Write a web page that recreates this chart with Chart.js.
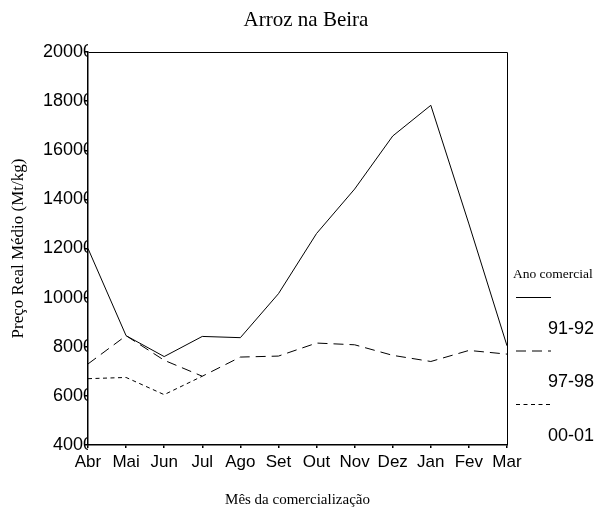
<!DOCTYPE html>
<html>
<head>
<meta charset="utf-8">
<script src="https://cdn.jsdelivr.net/npm/chart.js@4"></script>
<style>
html,body{margin:0;padding:0;background:#fff;}
canvas{display:block;}
</style>
</head>
<body>
<canvas id="c" width="612" height="531"></canvas>
<script>
const months = ['Abr','Mai','Jun','Jul','Ago','Set','Out','Nov','Dez','Jan','Fev','Mar'];
const s9192 = [12000, 8450, 7600, 8420, 8370, 10160, 12610, 14420, 16580, 17830, 13000, 8040];
const s9798 = [7300, 8450, 7450, 6800, 7580, 7620, 8150, 8080, 7650, 7400, 7850, 7700];
const s0001 = [6700, 6750, 6050, 6800, null, null, null, null, null, null, null, null];
const seriesLabels = ['91-92', '97-98', '00-01'];
const yTicks = [4000, 6000, 8000, 10000, 12000, 14000, 16000, 18000, 20000];

const frame = {
  id: 'frame',
  afterDraw(chart) {
    const {ctx, chartArea: a} = chart;
    ctx.save();
    ctx.strokeStyle = '#000';
    ctx.lineWidth = 1;
    ctx.setLineDash([]);
    ctx.beginPath();
    ctx.moveTo(Math.round(a.left) + 0.5, Math.round(a.top) + 0.5);
    ctx.lineTo(Math.round(a.right) + 0.5, Math.round(a.top) + 0.5);
    ctx.lineTo(Math.round(a.right) + 0.5, Math.round(a.bottom) + 0.5);
    ctx.stroke();
    ctx.restore();
  }
};

const sideLegend = {
  id: 'sideLegend',
  afterDraw(chart) {
    const ctx = chart.ctx;
    ctx.save();
    ctx.fillStyle = '#000';
    ctx.font = '13.5px "Liberation Serif"';
    ctx.textAlign = 'left';
    ctx.textBaseline = 'middle';
    ctx.fillText('Ano comercial', 513, 274);
    chart.data.datasets.forEach((ds, i) => {
      const y = 297 + i * 53.5;
      ctx.strokeStyle = ds.borderColor;
      ctx.lineWidth = 1;
      ctx.setLineDash(ds.borderDash || []);
      ctx.beginPath();
      ctx.moveTo(516, y + 0.5);
      ctx.lineTo(551, y + 0.5);
      ctx.stroke();
      ctx.setLineDash([]);
      ctx.font = '18px "Liberation Sans"';
      ctx.textAlign = 'right';
      ctx.fillText(ds.label, 594, y + 32);
    });
    ctx.restore();
  }
};

new Chart(document.getElementById('c'), {
  type: 'line',
  data: {
    labels: months,
    datasets: [
      {label: seriesLabels[0], data: s9192, borderColor: '#000', borderWidth: 1, borderDash: [], pointRadius: 0, tension: 0, fill: false},
      {label: seriesLabels[1], data: s9798, borderColor: '#000', borderWidth: 1, borderDash: [10, 6], pointRadius: 0, tension: 0, fill: false},
      {label: seriesLabels[2], data: s0001, borderColor: '#000', borderWidth: 1, borderDash: [4, 3.5], pointRadius: 0, tension: 0, fill: false, spanGaps: false}
    ]
  },
  options: {
    responsive: false,
    devicePixelRatio: 1,
    animation: false,
    layout: {padding: {left: 0, right: 0, top: 0, bottom: 0}},
    plugins: {
      legend: {display: false},
      tooltip: {enabled: false},
      title: {
        display: true,
        text: 'Arroz na Beira',
        color: '#000',
        font: {family: 'Liberation Serif', size: 21, weight: 'normal'},
        padding: {top: 8, bottom: 18.8}
      }
    },
    scales: {
      x: {
        type: 'category',
        offset: false,
        grid: {display: true, drawOnChartArea: false, drawTicks: true, tickLength: 3, color: '#000', lineWidth: 1.5},
        border: {display: true, color: '#000', width: 1.5},
        ticks: {color: '#000', font: {family: 'Liberation Sans', size: 17}, padding: 4, maxRotation: 0, autoSkip: false},
        title: {display: true, text: 'Mês da comercialização', color: '#000', font: {family: 'Liberation Serif', size: 15}, padding: {top: 0, bottom: 22}},
        afterFit(s) { s.height = 86; }
      },
      y: {
        min: 4000,
        max: 20000,
        afterBuildTicks(s) { s.ticks = yTicks.map(v => ({value: v})); },
        grid: {display: true, drawOnChartArea: false, drawTicks: true, tickLength: 3, color: '#000', lineWidth: 1.5},
        border: {display: true, color: '#000', width: 1.5},
        ticks: {color: '#000', font: {family: 'Liberation Sans', size: 18}, padding: -8, callback: v => String(v)},
        title: {display: true, text: 'Preço Real Médio (Mt/kg)', color: '#000', font: {family: 'Liberation Serif', size: 17}, padding: {top: 8, bottom: 0}},
        afterFit(s) { s.width = 88; }
      },
      yRight: {
        position: 'right',
        min: 4000,
        max: 20000,
        display: true,
        grid: {display: false, drawTicks: false},
        border: {display: false},
        ticks: {display: false},
        afterFit(s) { s.width = 105; }
      }
    }
  },
  plugins: [frame, sideLegend]
});
</script>
</body>
</html>
